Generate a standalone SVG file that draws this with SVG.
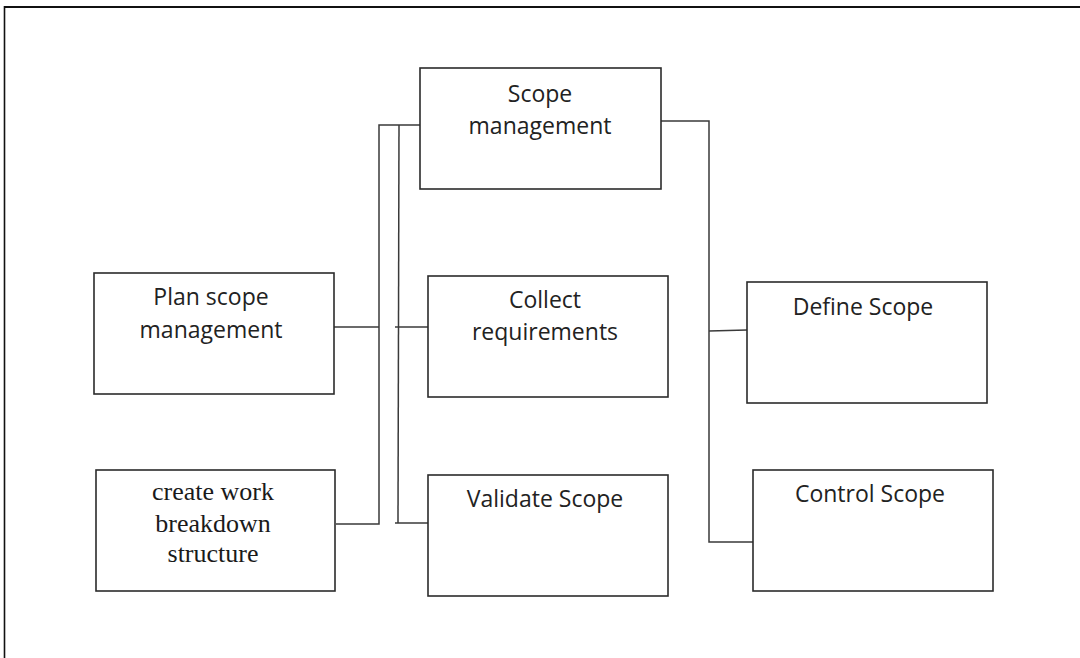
<svg xmlns="http://www.w3.org/2000/svg" width="1080" height="658" viewBox="0 0 1080 658">
  <style>
    .box { fill: #ffffff; stroke: #2b2b2b; stroke-width: 1.6; }
    .lbl { font-family: "Open Sans", "Liberation Sans", sans-serif; font-size: 23px; fill: #222222; text-anchor: middle; }
    .ser { font-family: "Liberation Serif", "DejaVu Serif", serif; font-size: 26px; fill: #1a1a1a; text-anchor: middle; }
    .wire { fill: none; stroke: #3a3a3a; stroke-width: 1.5; }
    .frame { fill: none; stroke: #111111; }
  </style>

  <rect width="1080" height="658" fill="#ffffff"/>

  <!-- page frame: top rule and left rule -->
  <g id="frame">
    <line class="frame" x1="4" y1="7" x2="1080" y2="7" stroke-width="2.2"/>
    <line class="frame" x1="4.5" y1="6" x2="4.5" y2="658" stroke-width="1.6"/>
  </g>

  <!-- connectors -->
  <g id="connectors">
    <!-- left trunk from Scope management to plan / WBS -->
    <polyline class="wire" points="420,125 379,125 379,524 336,524"/>
    <line class="wire" x1="334" y1="327" x2="379" y2="327"/>
    <!-- inner trunk to collect / validate -->
    <line class="wire" x1="399" y1="125" x2="398" y2="523"/>
    <line class="wire" x1="395" y1="327" x2="428" y2="327"/>
    <line class="wire" x1="395" y1="523" x2="428" y2="523"/>
    <!-- right trunk to define / control -->
    <polyline class="wire" points="661,121 709,121 709,542 753,542"/>
    <line class="wire" x1="709" y1="331" x2="747" y2="330"/>
  </g>

  <g id="scope-management">
    <rect class="box" x="420" y="68" width="241" height="121"/>
    <text class="lbl" x="540" y="102">Scope</text>
    <text class="lbl" x="540" y="134">management</text>
  </g>

  <g id="plan-scope-management">
    <rect class="box" x="94" y="273" width="240" height="121"/>
    <text class="lbl" x="211" y="305">Plan scope</text>
    <text class="lbl" x="211" y="338">management</text>
  </g>

  <g id="create-wbs">
    <rect class="box" x="96" y="470" width="239" height="121"/>
    <text class="ser" x="213" y="500">create work</text>
    <text class="ser" x="213" y="532">breakdown</text>
    <text class="ser" x="213" y="562">structure</text>
  </g>

  <g id="collect-requirements">
    <rect class="box" x="428" y="276" width="240" height="121"/>
    <text class="lbl" x="545" y="308">Collect</text>
    <text class="lbl" x="545" y="340">requirements</text>
  </g>

  <g id="validate-scope">
    <rect class="box" x="428" y="475" width="240" height="121"/>
    <text class="lbl" x="545" y="507">Validate Scope</text>
  </g>

  <g id="define-scope">
    <rect class="box" x="747" y="282" width="240" height="121"/>
    <text class="lbl" x="863" y="315">Define Scope</text>
  </g>

  <g id="control-scope">
    <rect class="box" x="753" y="470" width="240" height="121"/>
    <text class="lbl" x="870" y="502">Control Scope</text>
  </g>
</svg>
